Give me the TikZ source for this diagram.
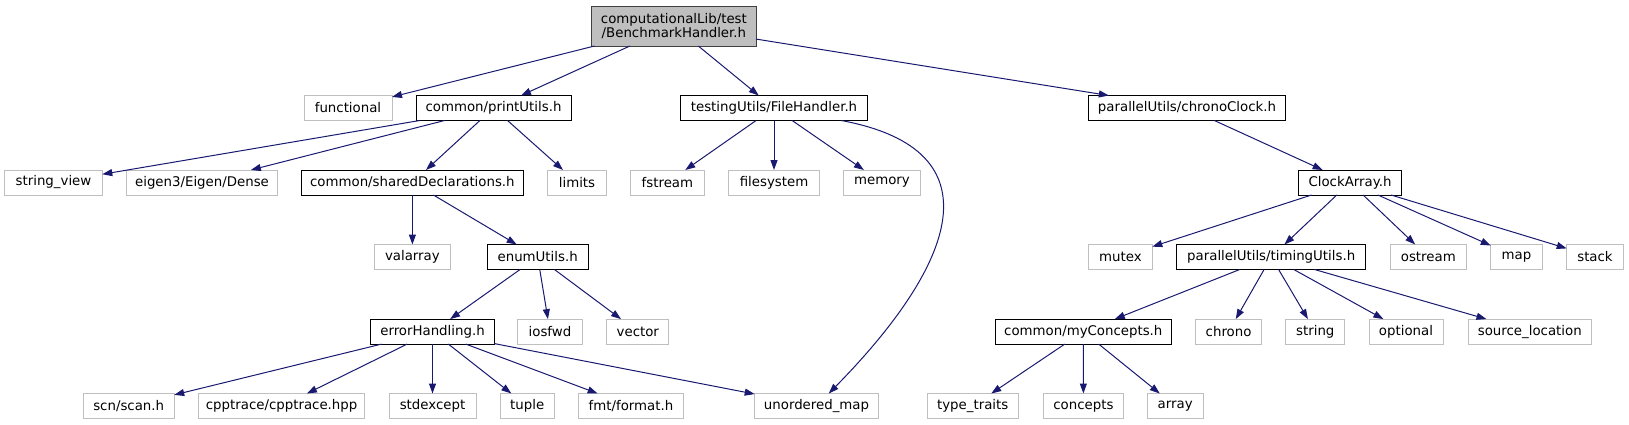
\documentclass[tikz,border=0pt]{standalone}
\usepackage{fontspec}
\setmainfont{DejaVu Sans}
\usepackage{tikz}
\usetikzlibrary{arrows.meta}
\definecolor{edgeblue}{HTML}{191970}
\definecolor{extbd}{HTML}{BFBFBF}
\definecolor{rootbg}{HTML}{BFBFBF}
\definecolor{rootbd}{HTML}{404040}
\newdimen\pxu \pxu=0.75pt
\tikzset{
  incbox/.style={draw=black,fill=white,line width=0.75pt,inner sep=0pt,
                 outer sep=0pt,minimum height=18.75pt,
                 font=\fontsize{10}{10.5}\selectfont},
  extbox/.style={incbox,draw=extbd},
  rootbox/.style={incbox,fill=rootbg,draw=rootbd,minimum height=30pt,
                  align=center},
  dep/.style={-{Triangle[length=7.5pt,width=5.25pt]},line width=0.75pt,
              edgeblue},
}

\begin{document}
\begin{tikzpicture}[x=0.75pt,y=-0.75pt]
  \useasboundingbox(0,0)rectangle(1629,425);
  \node[rootbox,minimum width=164.3\pxu](root)at(673.9,26)
    {computationalLib/test\\/BenchmarkHandler.h};
  \node[extbox,minimum width=88\pxu](functional)at(348,108){functional};
  \node[incbox,minimum width=155\pxu](printutils)at(493.5,108){common/printUtils.h};
  \node[incbox,minimum width=187\pxu](filehandler)at(774,108){testingUtils/FileHandler.h};
  \node[incbox,minimum width=197\pxu](chronoclock)at(1187,108){parallelUtils/chronoClock.h};
  \node[extbox,minimum width=97.6\pxu](stringview)at(53.5,182.5){string\_view};
  \node[extbox,minimum width=150.6\pxu](eigen)at(202,182.5){eigen3/Eigen/Dense};
  \node[incbox,minimum width=221.3\pxu](shareddecl)at(412.4,182.5){common/sharedDeclarations.h};
  \node[extbox,minimum width=58.6\pxu](limits)at(577,182.5){limits};
  \node[extbox,minimum width=73.2\pxu](fstream)at(667.4,182.5){fstream};
  \node[extbox,minimum width=91\pxu](filesystem)at(774,182.5){filesystem};
  \node[extbox,minimum width=77.2\pxu](memory)at(882,182.5){memory};
  \node[incbox,minimum width=102.8\pxu](clockarray)at(1350,182.5){ClockArray.h};
  \node[extbox,minimum width=75.8\pxu](valarray)at(412.4,257){valarray};
  \node[incbox,minimum width=101.4\pxu](enumutils)at(537.7,257){enumUtils.h};
  \node[extbox,minimum width=63.8\pxu](mutex)at(1120.4,257){mutex};
  \node[incbox,minimum width=189\pxu](timingutils)at(1271.2,257){parallelUtils/timingUtils.h};
  \node[extbox,minimum width=75.5\pxu](ostream)at(1428.3,257){ostream};
  \node[extbox,minimum width=51.2\pxu](map)at(1516.4,257){map};
  \node[extbox,minimum width=56.6\pxu](stack)at(1595,257){stack};
  \node[incbox,minimum width=123.4\pxu](errorhandling)at(432.5,331.6){errorHandling.h};
  \node[extbox,minimum width=64.2\pxu](iosfwd)at(550,331.6){iosfwd};
  \node[extbox,minimum width=62.3\pxu](vector)at(637.8,331.6){vector};
  \node[incbox,minimum width=176.5\pxu](myconcepts)at(1083.3,331.6){common/myConcepts.h};
  \node[extbox,minimum width=66.2\pxu](chrono)at(1228.6,331.6){chrono};
  \node[extbox,minimum width=58.7\pxu](string)at(1315.3,331.6){string};
  \node[extbox,minimum width=74\pxu](optional)at(1406,331.6){optional};
  \node[extbox,minimum width=123.6\pxu](sourceloc)at(1529.8,331.6){source\_location};
  \node[extbox,minimum width=91\pxu](scan)at(128.7,406){scn/scan.h};
  \node[extbox,minimum width=165.8\pxu](cpptrace)at(281.6,406){cpptrace/cpptrace.hpp};
  \node[extbox,minimum width=87\pxu](stdexcept)at(432.5,406){stdexcept};
  \node[extbox,minimum width=54.4\pxu](tuple)at(527.2,406){tuple};
  \node[extbox,minimum width=105.1\pxu](fmtformat)at(631,406){fmt/format.h};
  \node[extbox,minimum width=123.6\pxu](unorderedmap)at(816.5,406){unordered\_map};
  \node[extbox,minimum width=91.4\pxu](typetraits)at(972.7,406){type\_traits};
  \node[extbox,minimum width=79.2\pxu](concepts)at(1083.4,406){concepts};
  \node[extbox,minimum width=55.6\pxu](array)at(1175.2,406){array};
  \draw[dep](root)--(functional);
  \draw[dep](root)--(printutils);
  \draw[dep](root)--(filehandler);
  \draw[dep](root)--(chronoclock);
  \draw[dep](printutils)--(stringview);
  \draw[dep](printutils)--(eigen);
  \draw[dep](printutils)--(shareddecl);
  \draw[dep](printutils)--(limits);
  \draw[dep](filehandler)--(fstream);
  \draw[dep](filehandler)--(filesystem);
  \draw[dep](filehandler)--(memory);
  \draw[dep](filehandler)..controls(1000,150)and(955,265)..(unorderedmap);
  \draw[dep](chronoclock)--(clockarray);
  \draw[dep](shareddecl)--(valarray);
  \draw[dep](shareddecl)--(enumutils);
  \draw[dep](enumutils)--(errorhandling);
  \draw[dep](enumutils)--(iosfwd);
  \draw[dep](enumutils)--(vector);
  \draw[dep](errorhandling)--(scan);
  \draw[dep](errorhandling)--(cpptrace);
  \draw[dep](errorhandling)--(stdexcept);
  \draw[dep](errorhandling)--(tuple);
  \draw[dep](errorhandling)--(fmtformat);
  \draw[dep](errorhandling)--(unorderedmap);
  \draw[dep](clockarray)--(mutex);
  \draw[dep](clockarray)--(timingutils);
  \draw[dep](clockarray)--(ostream);
  \draw[dep](clockarray)--(map);
  \draw[dep](clockarray)--(stack);
  \draw[dep](timingutils)--(myconcepts);
  \draw[dep](timingutils)--(chrono);
  \draw[dep](timingutils)--(string);
  \draw[dep](timingutils)--(optional);
  \draw[dep](timingutils)--(sourceloc);
  \draw[dep](myconcepts)--(typetraits);
  \draw[dep](myconcepts)--(concepts);
  \draw[dep](myconcepts)--(array);
\end{tikzpicture}
\end{document}
